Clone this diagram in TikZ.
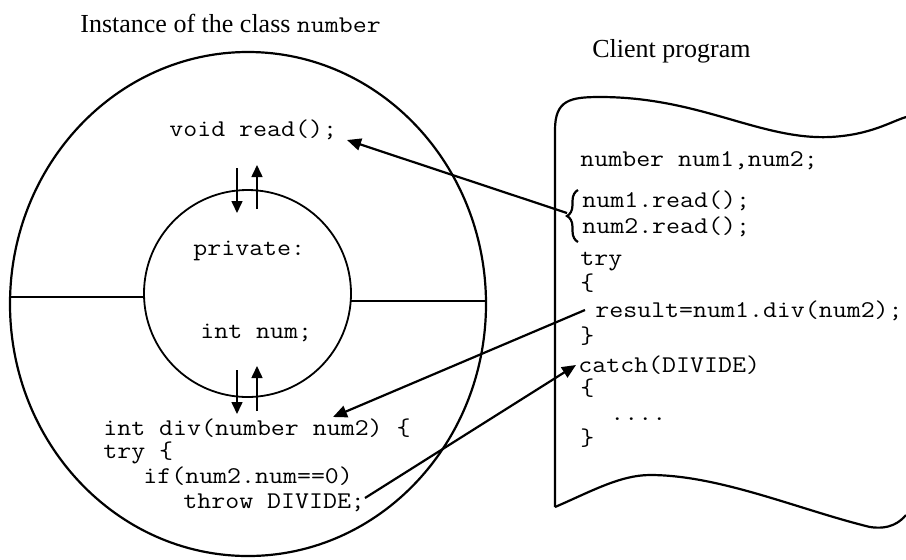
\documentclass[tikz,border=0pt]{standalone}
\usepackage{fontspec}
\setmainfont{Liberation Serif}
\setmonofont[FakeStretch=1.13]{Latin Modern Mono}
\usetikzlibrary{arrows.meta,decorations.pathreplacing}

\begin{document}
\begin{tikzpicture}[x=0.5pt,y=-0.5pt,
  code/.style={font=\ttfamily\fontsize{12}{14}\selectfont, inner sep=0pt, anchor=base west},
  title/.style={font=\fontsize{13}{15}\selectfont, inner sep=0pt, anchor=base west},
  edge/.style={line width=1.1pt},
  thin edge/.style={line width=0.9pt},
  conn/.style={line width=1.1pt, -{Triangle[length=7pt,width=6pt]}},
  flow/.style={line width=0.8pt, -{Triangle[length=6pt,width=5.5pt]}}]
\useasboundingbox (0,0) rectangle (906,559);

% titles
\node[title] (t1) at (80,32) {Instance of the class {\ttfamily\fontsize{12}{14}\selectfont number}};
\node[title] (t2) at (592,57) {Client program};

% object: outer ring and private core
\draw[edge] (248,304) ellipse [x radius=238, y radius=252];
\node[draw, thin edge, circle, minimum size=103.5pt, inner sep=0pt] (core) at (247.5,293.5) {};
\draw[thin edge] (10,297) -- (144,297);
\draw[thin edge] (351,301) -- (486,301);

% member texts
\node[code] (vr) at (169,136) {void read();};
\node[code] (pv) at (193,255) {private:};
\node[code] (in) at (200,338) {int num;};
\node[code] (d1) at (103,435) {int div(number num2) \{};
\node[code] (d2) at (103,458) {try \{};
\node[code] (d3) at (143,483) {if(num2.num==0)};
\node[code] (d4) at (183,508) {throw DIVIDE;};

% access arrows across the core boundary
\coordinate (a1s) at (237,168); \coordinate (a1e) at (237,213);
\coordinate (a2s) at (257,209); \coordinate (a2e) at (257,165);
\coordinate (a3s) at (237,370); \coordinate (a3e) at (237,414);
\coordinate (a4s) at (257,411); \coordinate (a4e) at (257,366);
\draw[flow] (a1s) -- (a1e);
\draw[flow] (a2s) -- (a2e);
\draw[flow] (a3s) -- (a3e);
\draw[flow] (a4s) -- (a4e);

% client program sheet
\draw[edge] (555,507) -- (555,130)
  .. controls (555,100) and (570,97) .. (600,97)
  .. controls (700,97) and (760,140) .. (830,137)
  .. controls (870,135) and (890,122) .. (906,117);
\draw[edge] (555,507)
  .. controls (590,492) and (620,475) .. (650,475)
  .. controls (720,475) and (800,510) .. (870,527)
  .. controls (890,530) and (900,522) .. (906,515);

% client code
\node[code] (c1)  at (580,166) {number num1,num2;};
\node[code] (c2)  at (582,207) {num1.read();};
\node[code] (c3)  at (582,233) {num2.read();};
\node[code] (c4)  at (580,265) {try};
\node[code] (c5)  at (580,290) {\{};
\node[code] (c6)  at (595,317) {result=num1.div(num2);};
\node[code] (c7)  at (580,343) {\}};
\node[code] (c8)  at (578,372) {catch(DIVIDE)};
\node[code] (c9)  at (580,395) {\{};
\node[code] (c10) at (610,420) {....};
\node[code] (c11) at (580,445) {\}};

% brace grouping the two read calls
\draw[edge, decorate, decoration={brace, amplitude=5.5pt}] (578,242) -- (578,190);
\coordinate (bracetip) at (567,213);

% calls and the thrown exception
\coordinate (readtip) at (347,140);
\coordinate (resstart) at (585,310);
\coordinate (divtip) at (333,417);
\coordinate (throwstart) at (365,498);
\coordinate (catchtip) at (576,365);
\draw[conn] (bracetip) -- (readtip);
\draw[conn] (resstart) -- (divtip);
\draw[conn] (throwstart) -- (catchtip);
\end{tikzpicture}
\end{document}
